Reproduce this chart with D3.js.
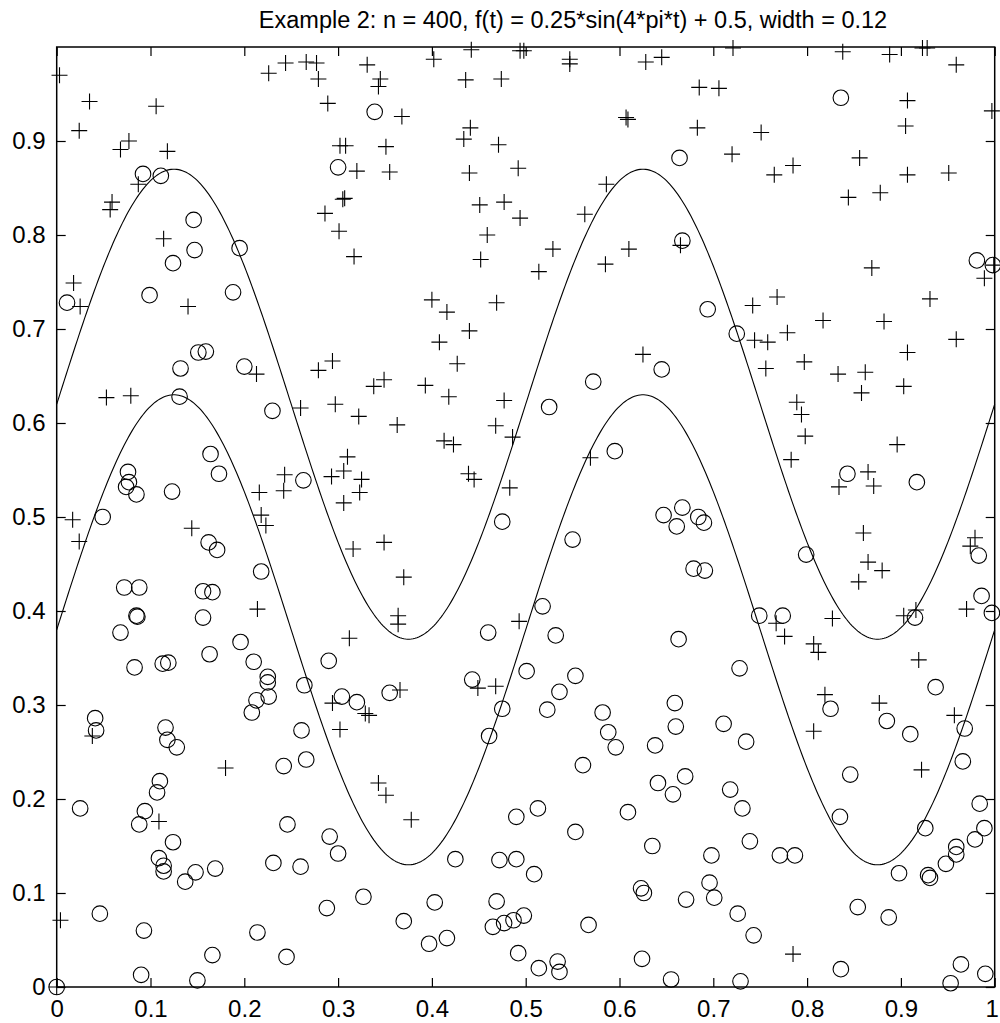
<!DOCTYPE html>
<html><head><meta charset="utf-8">
<script src="https://cdn.jsdelivr.net/npm/d3@7"></script>
<style>body{margin:0;background:#fff}text{font-family:"Liberation Sans",Arial,Helvetica,sans-serif}</style>
</head><body><svg id="c" width="1000" height="1023"></svg>
<script>
const titleText = "Example 2: n = 400, f(t) = 0.25*sin(4*pi*t) + 0.5, width = 0.12";
const xTicks = [0,0.1,0.2,0.3,0.4,0.5,0.6,0.7,0.8,0.9,1];
const xTickLabels = ["0","0.1","0.2","0.3","0.4","0.5","0.6","0.7","0.8","0.9","1"];
const yTicks = [0,0.1,0.2,0.3,0.4,0.5,0.6,0.7,0.8,0.9];
const yTickLabels = ["0","0.1","0.2","0.3","0.4","0.5","0.6","0.7","0.8","0.9"];
// band parameters from the title: f(t) = amp*sin(freq*pi*t) + offset, +/- width
const amp = 0.25, freq = 4, offset = 0.5, bandWidth = 0.12;

const circlePts = [
[0.092,0.865],[0.111,0.863],[0.146,0.816],[0.147,0.784],[0.195,0.786],[0.124,0.770],[0.300,0.872],[0.339,0.931],[0.099,0.736],[0.188,0.739],
[0.011,0.728],[0.151,0.675],[0.159,0.676],[0.132,0.658],[0.200,0.660],[0.131,0.628],[0.230,0.613],[0.164,0.567],[0.173,0.546],[0.076,0.548],
[0.077,0.537],[0.074,0.532],[0.085,0.524],[0.123,0.527],[0.263,0.539],[0.049,0.500],
[0.162,0.473],[0.171,0.465],[0.218,0.442],[0.072,0.425],[0.088,0.425],[0.156,0.421],[0.166,0.420],[0.085,0.395],[0.086,0.394],[0.156,0.393],
[0.068,0.377],[0.196,0.367],[0.163,0.354],[0.210,0.346],[0.290,0.347],[0.083,0.340],[0.113,0.344],[0.119,0.345],[0.225,0.330],[0.225,0.324],
[0.226,0.309],[0.213,0.305],[0.208,0.292],[0.264,0.321],[0.304,0.309],[0.320,0.303],[0.041,0.286],[0.042,0.273],[0.116,0.276],[0.118,0.263],
[0.128,0.255],[0.261,0.273],[0.266,0.242],[0.242,0.235],
[0.110,0.219],[0.107,0.207],[0.025,0.190],[0.094,0.187],[0.088,0.173],[0.246,0.173],[0.124,0.154],[0.291,0.160],[0.300,0.142],[0.109,0.137],
[0.114,0.129],[0.114,0.123],[0.148,0.122],[0.137,0.112],[0.169,0.126],[0.231,0.132],[0.260,0.128],[0.327,0.096],[0.288,0.084],[0.046,0.078],
[0.093,0.060],[0.214,0.058],[0.166,0.034],[0.245,0.032],[0.090,0.013],[0.150,0.007],[0,0],
[0.664,0.882],[0.667,0.794],[0.836,0.946],[0.981,0.773],[0.998,0.768],
[0.525,0.617],[0.572,0.644],[0.645,0.657],[0.595,0.570],[0.475,0.495],[0.647,0.502],
[0.694,0.721],[0.725,0.695],[0.843,0.546],[0.917,0.537],[0.667,0.510],[0.684,0.500],[0.690,0.494],[0.661,0.490],
[0.550,0.476],[0.518,0.405],[0.460,0.377],[0.532,0.374],[0.501,0.336],[0.443,0.327],[0.355,0.313],[0.553,0.331],[0.536,0.314],[0.475,0.296],
[0.523,0.295],[0.461,0.267],[0.582,0.292],[0.588,0.271],[0.596,0.255],[0.638,0.257],[0.561,0.236],[0.663,0.370],[0.659,0.302],[0.660,0.277],
[0.679,0.445],[0.691,0.443],[0.799,0.460],[0.983,0.459],[0.986,0.416],[0.997,0.398],[0.749,0.395],[0.774,0.395],[0.915,0.393],[0.728,0.339],
[0.937,0.319],[0.825,0.296],[0.885,0.283],[0.910,0.269],[0.968,0.275],[0.711,0.280],[0.735,0.261],[0.966,0.240],
[0.670,0.224],[0.657,0.205],[0.718,0.210],[0.731,0.190],[0.739,0.155],[0.698,0.140],[0.771,0.140],[0.787,0.140],[0.696,0.111],[0.671,0.093],
[0.701,0.095],[0.726,0.078],[0.743,0.055],[0.846,0.226],[0.835,0.181],[0.984,0.195],[0.989,0.169],[0.979,0.157],[0.926,0.169],[0.959,0.149],
[0.959,0.141],[0.948,0.131],[0.898,0.121],[0.929,0.119],[0.931,0.116],[0.854,0.085],[0.887,0.074],[0.836,0.019],[0.964,0.024],[0.990,0.014],
[0.953,0.004],[0.729,0.006],[0.655,0.008],
[0.641,0.217],[0.513,0.190],[0.490,0.181],[0.553,0.165],[0.609,0.186],[0.635,0.150],[0.425,0.136],[0.472,0.135],[0.490,0.136],[0.509,0.120],
[0.623,0.105],[0.626,0.100],[0.403,0.090],[0.469,0.091],[0.370,0.070],[0.498,0.076],[0.487,0.071],[0.477,0.068],[0.465,0.064],[0.567,0.066],
[0.416,0.052],[0.397,0.046],[0.492,0.036],[0.624,0.030],[0.534,0.027],[0.536,0.016],[0.514,0.020]
];

const plusPts = [
[0.003,0.970],[0.035,0.942],[0.106,0.937],[0.024,0.911],[0.077,0.900],[0.068,0.891],[0.118,0.889],[0.087,0.854],[0.059,0.835],[0.057,0.827],
[0.114,0.796],[0.018,0.749],[0.226,0.972],[0.244,0.983],[0.266,0.984],[0.277,0.983],[0.279,0.966],[0.289,0.940],[0.302,0.895],[0.308,0.895],
[0.320,0.868],[0.305,0.838],[0.307,0.839],[0.286,0.823],[0.301,0.804],[0.317,0.777],
[0.025,0.724],[0.140,0.724],[0.213,0.652],[0.053,0.627],[0.079,0.629],[0.294,0.666],[0.279,0.656],[0.260,0.616],[0.297,0.620],[0.322,0.607],
[0.310,0.564],[0.306,0.549],[0.293,0.543],[0.325,0.540],[0.323,0.526],[0.306,0.515],[0.243,0.545],[0.242,0.528],[0.216,0.526],[0.218,0.502],
[0.223,0.491],[0.017,0.497],[0.144,0.488],
[0.024,0.474],[0.316,0.466],[0.214,0.402],[0.312,0.371],[0.038,0.267],[0.294,0.302],[0.302,0.274],[0.329,0.291],[0.180,0.233],
[0.109,0.176],[0.004,0.071],[0,0],
[0.331,0.981],[0.345,0.966],[0.343,0.958],[0.402,0.987],[0.442,0.997],[0.494,0.996],[0.498,0.996],[0.547,0.987],[0.547,0.982],[0.436,0.965],
[0.474,0.966],[0.628,0.984],[0.645,0.989],[0.368,0.926],[0.609,0.923],[0.607,0.925],[0.441,0.914],[0.434,0.902],[0.471,0.896],[0.351,0.894],
[0.355,0.867],[0.440,0.866],[0.492,0.871],[0.586,0.854],[0.451,0.832],[0.477,0.835],[0.494,0.818],[0.563,0.822],[0.459,0.800],[0.529,0.785],
[0.610,0.785],[0.452,0.774],[0.585,0.769],[0.514,0.761],[0.665,0.789],
[0.721,0.999],[0.838,0.995],[0.888,0.992],[0.923,0.999],[0.928,0.999],[0.959,0.981],[0.685,0.957],[0.706,0.956],[0.907,0.943],[0.905,0.916],
[0.997,0.932],[0.683,0.914],[0.751,0.909],[0.720,0.886],[0.785,0.874],[0.765,0.864],[0.856,0.882],[0.907,0.864],[0.951,0.866],[0.844,0.840],
[0.878,0.845],[0.869,0.765],[0.989,0.754],[0.999,0.768],
[0.400,0.731],[0.416,0.718],[0.469,0.728],[0.440,0.698],[0.408,0.686],[0.427,0.663],[0.349,0.646],[0.338,0.639],[0.393,0.640],[0.418,0.628],
[0.477,0.624],[0.363,0.598],[0.468,0.597],[0.486,0.585],[0.413,0.581],[0.423,0.577],[0.439,0.546],[0.445,0.540],[0.483,0.531],[0.625,0.673],
[0.569,0.563],
[0.768,0.734],[0.742,0.725],[0.931,0.732],[0.817,0.709],[0.882,0.708],[0.779,0.696],[0.744,0.688],[0.758,0.686],[0.959,0.689],[0.907,0.675],
[0.797,0.665],[0.756,0.658],[0.833,0.652],[0.862,0.654],[0.858,0.632],[0.903,0.639],[0.789,0.622],[0.794,0.609],[0.798,0.586],[0.896,0.577],
[0.783,0.561],[0.865,0.548],[0.871,0.533],[0.834,0.532],
[0.349,0.473],[0.370,0.436],[0.364,0.395],[0.364,0.386],[0.493,0.389],[0.366,0.316],[0.449,0.318],[0.468,0.320],[0.333,0.289],
[0.860,0.483],[0.865,0.452],[0.880,0.443],[0.855,0.431],[0.979,0.478],[0.974,0.469],[0.903,0.395],[0.916,0.401],[0.970,0.402],[0.827,0.392],
[0.767,0.387],[0.776,0.373],[0.807,0.365],[0.812,0.356],[0.919,0.348],[0.819,0.311],[0.877,0.302],[0.957,0.289],[0.807,0.272],[0.922,0.231],
[0.343,0.217],[0.351,0.204],[0.378,0.178],[0.785,0.035]
];

const mLeft = 56.7, mRight = 994.7, mTop = 47, mBottom = 987;
const svg = d3.select("#c");
const x = d3.scaleLinear().domain([0,1]).range([mLeft,mRight]);
const y = d3.scaleLinear().domain([0,1]).range([mBottom,mTop]);

// curves
const ts = d3.range(0, 1.0001, 0.002);
const f = t => amp*Math.sin(freq*Math.PI*t) + offset;
const line = d3.line().x(d => x(d[0])).y(d => y(d[1]));
[bandWidth, -bandWidth].forEach(w => {
  svg.append("path").datum(ts.map(t => [t, f(t)+w])).attr("d", line)
    .attr("fill","none").attr("stroke","#000").attr("stroke-width",1.1);
});

// markers
const R = 7.8, P = 8;
svg.append("g").selectAll("circle").data(circlePts).join("circle")
  .attr("cx", d => x(d[0])).attr("cy", d => y(d[1])).attr("r", R)
  .attr("fill","none").attr("stroke","#000").attr("stroke-width",1.1);
svg.append("g").selectAll("path").data(plusPts).join("path")
  .attr("d", d => { const cx = x(d[0]), cy = y(d[1]);
    return `M${cx-P},${cy}H${cx+P}M${cx},${cy-P}V${cy+P}`; })
  .attr("fill","none").attr("stroke","#000").attr("stroke-width",1.1);

// axes
const fs = 24;
const gx = svg.append("g").attr("transform",`translate(0,${mBottom})`)
  .call(d3.axisBottom(x).tickValues(xTicks).tickSize(-9).tickPadding(13).tickFormat((d,i)=>xTickLabels[i]));
const gxt = svg.append("g").attr("transform",`translate(0,${mTop})`)
  .call(d3.axisTop(x).tickValues(xTicks).tickSize(-9).tickFormat(""));
const gy = svg.append("g").attr("transform",`translate(${mLeft},0)`)
  .call(d3.axisLeft(y).tickValues(yTicks).tickSize(-9).tickPadding(11).tickFormat((d,i)=>yTickLabels[i]));
const gyr = svg.append("g").attr("transform",`translate(${mRight},0)`)
  .call(d3.axisRight(y).tickValues(yTicks).tickSize(-9).tickFormat(""));
[gx,gxt,gy,gyr].forEach(g => {
  g.select(".domain").remove();
  g.selectAll("line").attr("stroke","#000").attr("stroke-width",1.2);
  g.selectAll("text").attr("font-size",fs).attr("fill","#000")
   .attr("font-family",'"Liberation Sans",Arial,sans-serif');
});
// keep the last x label inside the page
gx.selectAll("text").filter(d => d === 1).attr("dx", -3);

svg.append("rect").attr("x",mLeft).attr("y",mTop).attr("width",mRight-mLeft).attr("height",mBottom-mTop)
  .attr("fill","none").attr("stroke","#000").attr("stroke-width",1.5);

svg.append("text").attr("x",573).attr("y",28).attr("text-anchor","middle")
  .attr("font-size",23.5).attr("fill","#000").text(titleText);
</script></body></html>
